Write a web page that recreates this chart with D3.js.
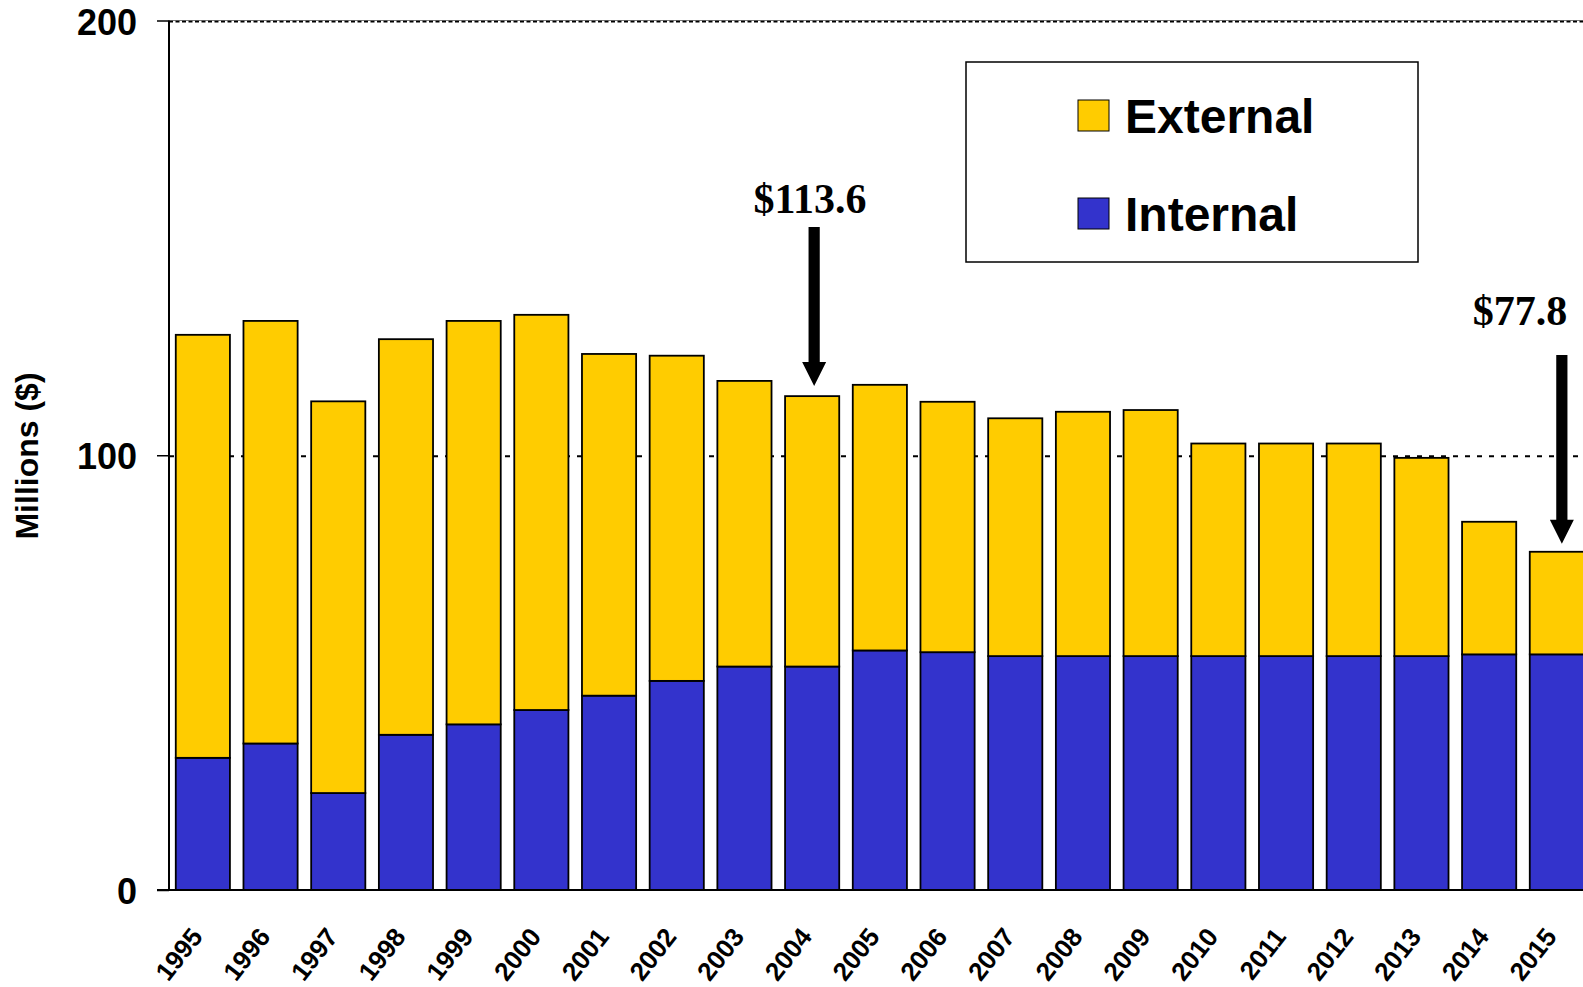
<!DOCTYPE html>
<html>
<head>
<meta charset="utf-8">
<script src="https://cdn.jsdelivr.net/npm/d3@7"></script>
<style>
  html, body { margin: 0; padding: 0; background: #ffffff; }
  svg { display: block; }
  .sans { font-family: "Liberation Sans", Arial, sans-serif; font-weight: bold; }
  .serif { font-family: "Liberation Serif", "Times New Roman", serif; font-weight: bold; }
</style>
</head>
<body>
<svg id="chart" width="1583" height="987"></svg>
<script>
// Spending by year, millions of dollars
const years = ["1995","1996","1997","1998","1999","2000","2001","2002","2003","2004",
               "2005","2006","2007","2008","2009","2010","2011","2012","2013","2014","2015"];
const internal = [30.4, 33.7, 22.3, 35.7, 38.1, 41.4, 44.7, 48.1, 51.4, 51.4,
                  55.1, 54.7, 53.8, 53.8, 53.8, 53.8, 53.8, 53.8, 53.8, 54.2, 54.2];
const external = [97.3, 97.2, 90.1, 91.0, 92.8, 90.9, 78.6, 74.8, 65.7, 62.2,
                  61.1, 57.6, 54.7, 56.2, 56.6, 48.9, 48.9, 48.9, 45.6, 30.5, 23.6];
const seriesNames = ["Internal", "External"];
const yTicks = [0, 100, 200];
const calloutYears = ["2004", "2015"];

const colors = { Internal: "#3333CC", External: "#FFCC00" };

const svg = d3.select("#chart");

const x = d3.scaleBand()
  .domain(years)
  .range([169, 1590.7])
  .paddingInner(0.2)
  .paddingOuter(0.1);

const y = d3.scaleLinear().domain([0, 200]).range([890, 20.5]);

const rows = years.map((yr, i) => ({ year: yr, Internal: internal[i], External: external[i] }));
const stacked = d3.stack().keys(seriesNames)(rows);

// Dotted reference lines at 100 and 200
svg.append("line")
  .attr("x1", 169).attr("x2", 1583)
  .attr("y1", y(200)).attr("y2", y(200))
  .attr("stroke", "#555").attr("stroke-width", 0.8);
svg.append("line")
  .attr("x1", 169).attr("x2", 1583)
  .attr("y1", y(200) + 1.2).attr("y2", y(200) + 1.2)
  .attr("stroke", "#000").attr("stroke-width", 1.8)
  .attr("stroke-dasharray", "4,2.5");
svg.append("line")
  .attr("x1", 169).attr("x2", 1583)
  .attr("y1", y(100) + 1).attr("y2", y(100) + 1)
  .attr("stroke", "#000").attr("stroke-width", 2.2)
  .attr("stroke-dasharray", "5,7");

// Stacked bars
svg.append("g")
  .selectAll("g")
  .data(stacked)
  .join("g")
  .attr("fill", d => colors[d.key])
  .selectAll("rect")
  .data(d => d)
  .join("rect")
  .attr("x", d => x(d.data.year))
  .attr("width", x.bandwidth())
  .attr("y", d => y(d[1]))
  .attr("height", d => y(d[0]) - y(d[1]))
  .attr("stroke", "#000")
  .attr("stroke-width", 1.8);

// Y axis
const yAxis = d3.axisLeft(y).tickValues(yTicks).tickSize(12).tickPadding(20);
const gy = svg.append("g")
  .attr("transform", "translate(169,0)")
  .call(yAxis);
gy.select(".domain").attr("stroke", "#000").attr("stroke-width", 2)
  .attr("d", `M0,${y(200)}V${y(0)}`);
gy.selectAll(".tick line").attr("stroke", "#000").attr("stroke-width", 1.5);
gy.selectAll(".tick text")
  .attr("class", "sans")
  .attr("font-size", 36)
  .attr("fill", "#000")
  .attr("dy", "0.38em");

// Baseline
svg.append("line")
  .attr("x1", 157).attr("x2", 1583)
  .attr("y1", y(0)).attr("y2", y(0))
  .attr("stroke", "#000").attr("stroke-width", 2);

// X axis labels
const xAxis = d3.axisBottom(x).tickSize(0).tickPadding(0);
const gx = svg.append("g")
  .attr("transform", `translate(0,${y(0)})`)
  .call(xAxis);
gx.select(".domain").remove();
gx.selectAll(".tick text")
  .attr("class", "sans")
  .attr("font-size", 26)
  .attr("fill", "#000")
  .attr("text-anchor", "end")
  .attr("dy", 0)
  .attr("y", 0)
  .attr("transform", "translate(1,47) rotate(-52)");

// Y axis title
svg.append("text")
  .attr("class", "sans")
  .attr("font-size", 32)
  .attr("text-anchor", "middle")
  .attr("transform", "translate(38,456) rotate(-90)")
  .text("Millions ($)");

// Legend
const legend = svg.append("g");
legend.append("rect")
  .attr("x", 966).attr("y", 62).attr("width", 452).attr("height", 200)
  .attr("fill", "#fff").attr("stroke", "#000").attr("stroke-width", 1.5);
const legendItems = ["External", "Internal"];
legendItems.forEach((name, i) => {
  const baseY = 133 + i * 98;
  legend.append("rect")
    .attr("x", 1078).attr("y", baseY - 33).attr("width", 31).attr("height", 31)
    .attr("fill", colors[name]).attr("stroke", "#000").attr("stroke-width", 1);
  legend.append("text")
    .attr("class", "sans")
    .attr("font-size", 48)
    .attr("x", 1125).attr("y", baseY)
    .text(name);
});

// Callouts with arrows
const calloutLayout = {
  "2004": { textX: 810, textY: 213, shaftTop: 227, tipGap: 10, dx: 2 },
  "2015": { textX: 1520, textY: 325, shaftTop: 355, tipGap: 8, dx: 5 }
};
calloutYears.forEach(yr => {
  const i = years.indexOf(yr);
  const total = internal[i] + external[i];
  const L = calloutLayout[yr];
  svg.append("text")
    .attr("class", "serif")
    .attr("font-size", 42)
    .attr("text-anchor", "middle")
    .attr("x", L.textX).attr("y", L.textY)
    .text("$" + total.toFixed(1));
  const cx = x(yr) + x.bandwidth() / 2 + L.dx;
  const tip = y(total) - L.tipGap;
  const sw = 5.6, hw = 12, hh = 24;
  const path = d3.path();
  path.moveTo(cx - sw, L.shaftTop);
  path.lineTo(cx + sw, L.shaftTop);
  path.lineTo(cx + sw, tip - hh);
  path.lineTo(cx + hw, tip - hh);
  path.lineTo(cx, tip);
  path.lineTo(cx - hw, tip - hh);
  path.lineTo(cx - sw, tip - hh);
  path.closePath();
  svg.append("path").attr("d", path.toString()).attr("fill", "#000");
});
</script>
</body>
</html>
